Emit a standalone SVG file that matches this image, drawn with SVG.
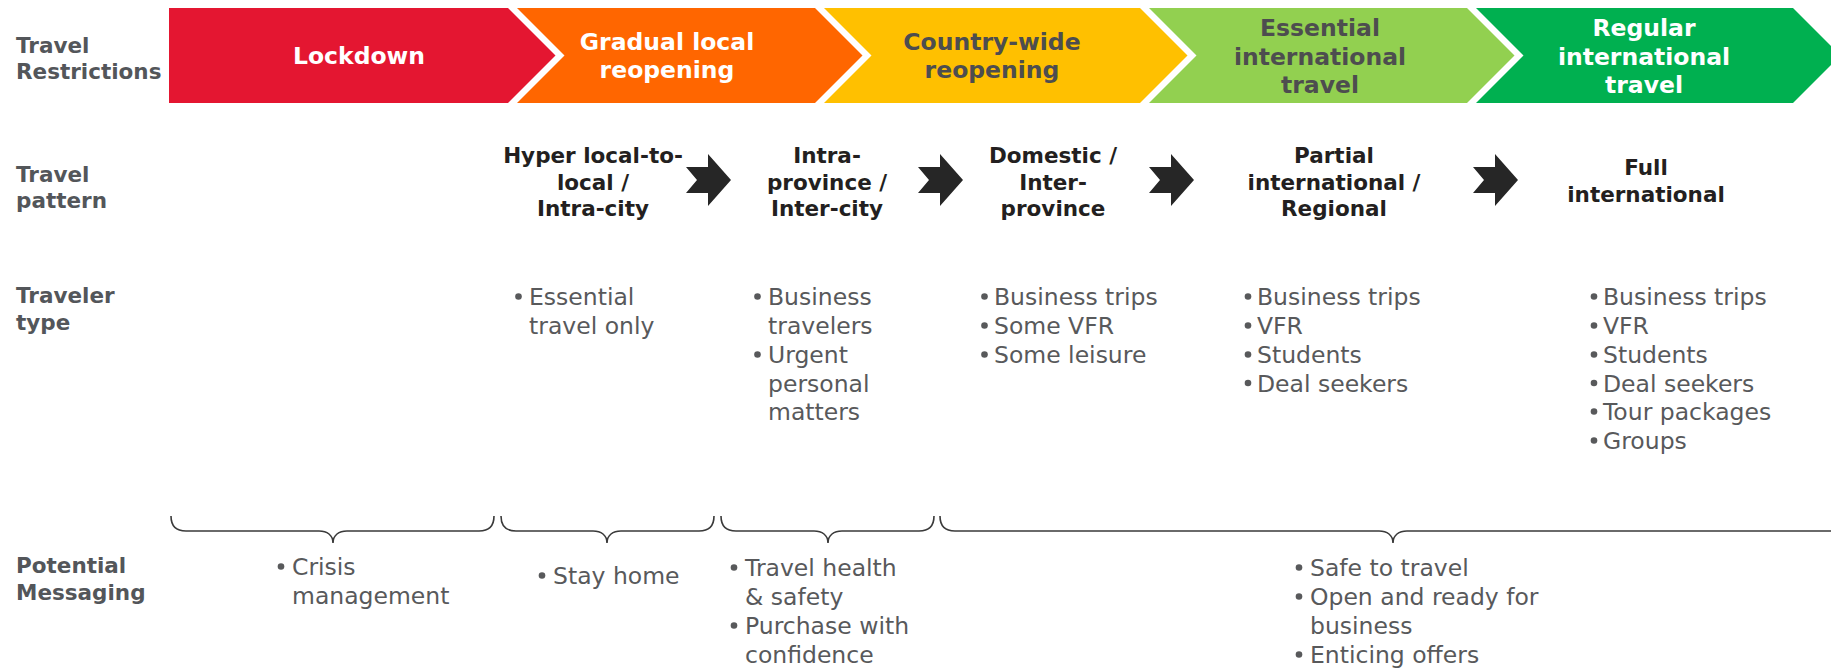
<svg xmlns="http://www.w3.org/2000/svg" width="1831" height="670" viewBox="0 0 1831 670">
  <style>
    .lbl { font-family: "DejaVu Sans", Verdana, sans-serif; font-weight: bold; font-size: 21.5px; fill: #53565A; }
    .ttl { font-family: "DejaVu Sans", Verdana, sans-serif; font-weight: bold; font-size: 23.5px; text-anchor: middle; }
    .w { fill: #FFFFFF; }
    .d { fill: #4D4D4F; }
    .pat { font-family: "DejaVu Sans", Verdana, sans-serif; font-weight: bold; font-size: 21.5px; fill: #231F20; text-anchor: middle; }
    .bt { font-family: "DejaVu Sans", Verdana, sans-serif; font-size: 23.5px; fill: #58595B; }
    .dot { fill: #58595B; }
    .arr { fill: #262626; }
    .brace { fill: none; stroke: #3A3A3A; stroke-width: 1.6; }
  </style>

  <defs>
    <!-- notched right arrow used between travel pattern stages -->
    <polygon id="notched-arrow" points="0,13 22,13 22,0 45,26 22,52 22,39 0,39 11,26"/>
  </defs>

  <!-- Row headings -->
  <g id="row-labels">
    <text class="lbl" x="16" y="53">Travel</text>
    <text class="lbl" x="16" y="79">Restrictions</text>
    <text class="lbl" x="16" y="182">Travel</text>
    <text class="lbl" x="16" y="208">pattern</text>
    <text class="lbl" x="16" y="303">Traveler</text>
    <text class="lbl" x="16" y="330">type</text>
    <text class="lbl" x="16" y="573">Potential</text>
    <text class="lbl" x="16" y="600">Messaging</text>
  </g>

  <!-- Restriction phases as chevron band -->
  <g id="phase-lockdown">
    <polygon points="169,8 508,8 555.5,55.5 508,103 169,103" fill="#E41631"/>
    <text class="ttl w" x="359" y="64">Lockdown</text>
  </g>
  <g id="phase-gradual">
    <polygon points="517,8 815,8 862.5,55.5 815,103 517,103 564.5,55.5" fill="#FF6600"/>
    <text class="ttl w" x="667" y="50">Gradual local</text>
    <text class="ttl w" x="667" y="78">reopening</text>
  </g>
  <g id="phase-countrywide">
    <polygon points="824,8 1140,8 1187.5,55.5 1140,103 824,103 871.5,55.5" fill="#FFC000"/>
    <text class="ttl d" x="992" y="50">Country-wide</text>
    <text class="ttl d" x="992" y="78">reopening</text>
  </g>
  <g id="phase-essential">
    <polygon points="1149,8 1467,8 1514.5,55.5 1467,103 1149,103 1196.5,55.5" fill="#92D050"/>
    <text class="ttl d" x="1320" y="36">Essential</text>
    <text class="ttl d" x="1320" y="64.5">international</text>
    <text class="ttl d" x="1320" y="93">travel</text>
  </g>
  <g id="phase-regular">
    <polygon points="1476,8 1793,8 1840.5,55.5 1793,103 1476,103 1523.5,55.5" fill="#00B050"/>
    <text class="ttl w" x="1644" y="36">Regular</text>
    <text class="ttl w" x="1644" y="64.5">international</text>
    <text class="ttl w" x="1644" y="93">travel</text>
  </g>

  <!-- Travel pattern stages -->
  <g id="pattern-local">
    <text class="pat" x="593" y="163">Hyper local-to-</text>
    <text class="pat" x="593" y="189.5">local /</text>
    <text class="pat" x="593" y="216">Intra-city</text>
  </g>
  <g id="pattern-province">
    <text class="pat" x="827" y="163">Intra-</text>
    <text class="pat" x="827" y="189.5">province /</text>
    <text class="pat" x="827" y="216">Inter-city</text>
  </g>
  <g id="pattern-domestic">
    <text class="pat" x="1053" y="163">Domestic /</text>
    <text class="pat" x="1053" y="189.5">Inter-</text>
    <text class="pat" x="1053" y="216">province</text>
  </g>
  <g id="pattern-partial">
    <text class="pat" x="1334" y="163">Partial</text>
    <text class="pat" x="1334" y="189.5">international /</text>
    <text class="pat" x="1334" y="216">Regional</text>
  </g>
  <g id="pattern-full">
    <text class="pat" x="1646" y="175">Full</text>
    <text class="pat" x="1646" y="202">international</text>
  </g>

  <!-- Progression arrows between pattern stages -->
  <g id="connectors">
    <use class="arr" href="#notched-arrow" x="686" y="154"/>
    <use class="arr" href="#notched-arrow" x="918" y="154"/>
    <use class="arr" href="#notched-arrow" x="1149" y="154"/>
    <use class="arr" href="#notched-arrow" x="1473" y="154"/>
  </g>

  <!-- Traveler types -->
  <g id="traveler-local">
    <circle class="dot" cx="518.5" cy="296.5" r="3.3"/>
    <text class="bt" x="529" y="305">Essential</text>
    <text class="bt" x="529" y="334">travel only</text>
  </g>
  <g id="traveler-province">
    <circle class="dot" cx="757.5" cy="296.5" r="3.3"/>
    <text class="bt" x="768" y="305">Business</text>
    <text class="bt" x="768" y="334">travelers</text>
    <circle class="dot" cx="757.5" cy="354.5" r="3.3"/>
    <text class="bt" x="768" y="363">Urgent</text>
    <text class="bt" x="768" y="391.5">personal</text>
    <text class="bt" x="768" y="420">matters</text>
  </g>
  <g id="traveler-domestic">
    <circle class="dot" cx="984.5" cy="296.5" r="3.3"/>
    <text class="bt" x="994" y="305">Business trips</text>
    <circle class="dot" cx="984.5" cy="325.5" r="3.3"/>
    <text class="bt" x="994" y="334">Some VFR</text>
    <circle class="dot" cx="984.5" cy="354.5" r="3.3"/>
    <text class="bt" x="994" y="363">Some leisure</text>
  </g>
  <g id="traveler-partial">
    <circle class="dot" cx="1248" cy="296.5" r="3.3"/>
    <text class="bt" x="1257" y="305">Business trips</text>
    <circle class="dot" cx="1248" cy="325.5" r="3.3"/>
    <text class="bt" x="1257" y="334">VFR</text>
    <circle class="dot" cx="1248" cy="354.5" r="3.3"/>
    <text class="bt" x="1257" y="363">Students</text>
    <circle class="dot" cx="1248" cy="383" r="3.3"/>
    <text class="bt" x="1257" y="391.5">Deal seekers</text>
  </g>
  <g id="traveler-full">
    <circle class="dot" cx="1594" cy="296.5" r="3.3"/>
    <text class="bt" x="1603" y="305">Business trips</text>
    <circle class="dot" cx="1594" cy="325.5" r="3.3"/>
    <text class="bt" x="1603" y="334">VFR</text>
    <circle class="dot" cx="1594" cy="354.5" r="3.3"/>
    <text class="bt" x="1603" y="363">Students</text>
    <circle class="dot" cx="1594" cy="383" r="3.3"/>
    <text class="bt" x="1603" y="391.5">Deal seekers</text>
    <circle class="dot" cx="1594" cy="411.5" r="3.3"/>
    <text class="bt" x="1603" y="420">Tour packages</text>
    <circle class="dot" cx="1594" cy="440.5" r="3.3"/>
    <text class="bt" x="1603" y="449">Groups</text>
  </g>

  <!-- Braces grouping the phases for messaging -->
  <g id="braces">
    <path class="brace" d="M171,516 C171,526 176,531 186,531 L319,531 C327,531 333,535 333,543 C333,535 339,531 347,531 L479,531 C489,531 494,526 494,516"/>
    <path class="brace" d="M501,516 C501,526 506,531 516,531 L593,531 C601,531 607,535 607,543 C607,535 613,531 621,531 L699,531 C709,531 714,526 714,516"/>
    <path class="brace" d="M721,516 C721,526 726,531 736,531 L814,531 C822,531 828,535 828,543 C828,535 834,531 842,531 L919,531 C929,531 934,526 934,516"/>
    <path class="brace" d="M940,516 C940,526 945,531 955,531 L1379,531 C1387,531 1393,535 1393,543 C1393,535 1399,531 1407,531 L1831,531 C1841,531 1846,526 1846,516"/>
  </g>

  <!-- Messaging per group -->
  <g id="msg-lockdown">
    <circle class="dot" cx="281" cy="566.5" r="3.3"/>
    <text class="bt" x="292" y="575">Crisis</text>
    <text class="bt" x="292" y="604">management</text>
  </g>
  <g id="msg-gradual">
    <circle class="dot" cx="542" cy="575.5" r="3.3"/>
    <text class="bt" x="553" y="584">Stay home</text>
  </g>
  <g id="msg-countrywide">
    <circle class="dot" cx="734" cy="567.5" r="3.3"/>
    <text class="bt" x="745" y="576">Travel health</text>
    <text class="bt" x="745" y="605">&amp; safety</text>
    <circle class="dot" cx="734" cy="625.5" r="3.3"/>
    <text class="bt" x="745" y="634">Purchase with</text>
    <text class="bt" x="745" y="663">confidence</text>
  </g>
  <g id="msg-international">
    <circle class="dot" cx="1299" cy="567.5" r="3.3"/>
    <text class="bt" x="1310" y="576">Safe to travel</text>
    <circle class="dot" cx="1299" cy="596.5" r="3.3"/>
    <text class="bt" x="1310" y="605">Open and ready for</text>
    <text class="bt" x="1310" y="634">business</text>
    <circle class="dot" cx="1299" cy="654.5" r="3.3"/>
    <text class="bt" x="1310" y="663">Enticing offers</text>
  </g>
</svg>
